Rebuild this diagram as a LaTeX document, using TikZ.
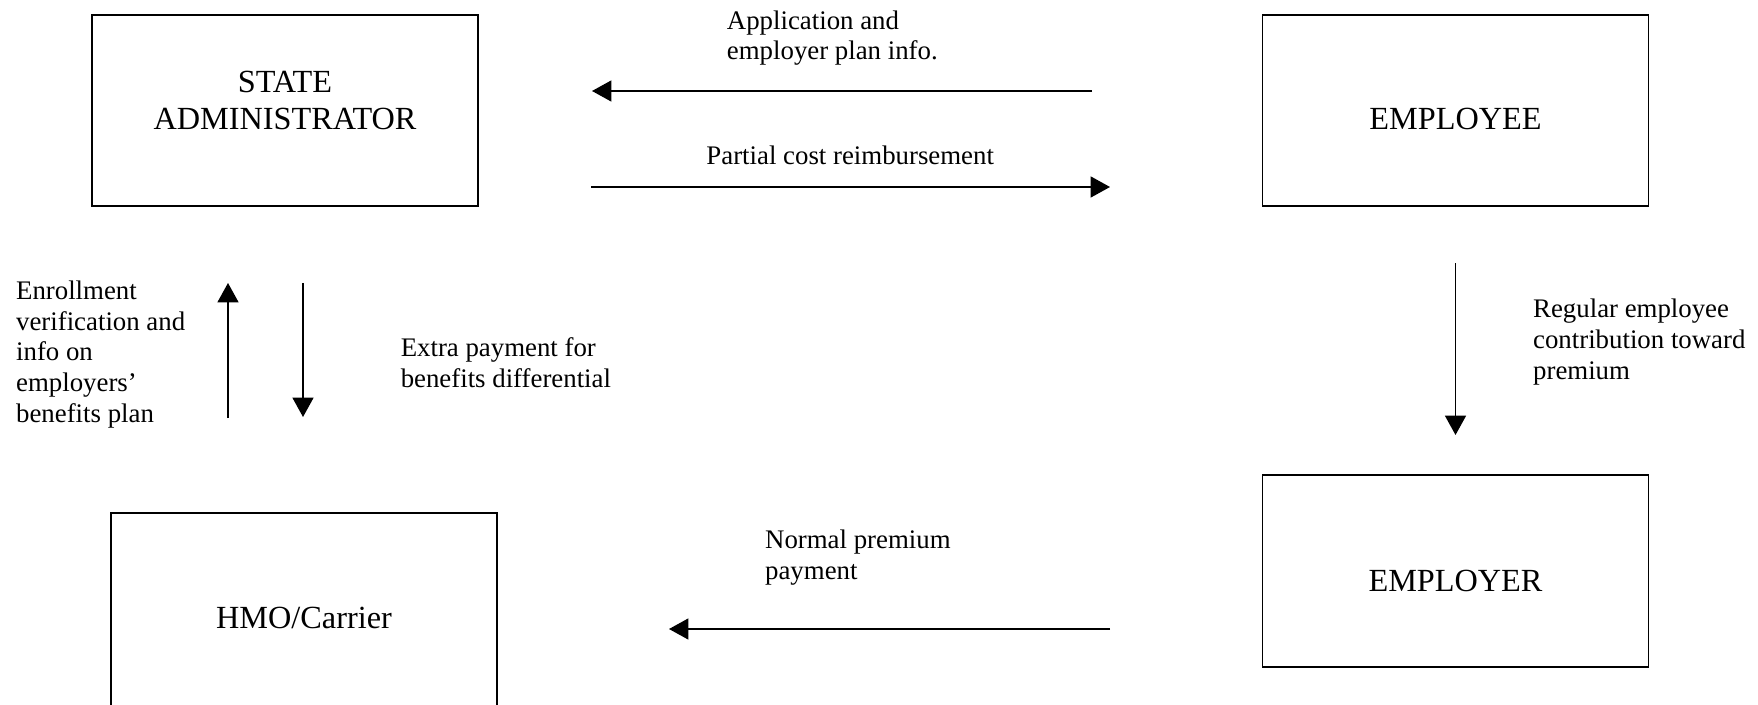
\documentclass[tikz,border=0pt]{standalone}
\usepackage{fontspec}
\setmainfont{Liberation Serif}
\usetikzlibrary{arrows.meta}
\begin{document}
\begin{tikzpicture}[x=0.44pt,y=-0.44pt,
  entity/.style={draw, line width=0.8pt, rectangle, inner sep=0pt,
    minimum width=169.8pt, minimum height=#1},
  entity/.default=84pt,
  title/.style={font=\fontsize{14.2}{16.3}\selectfont, align=center,
    anchor=base, inner sep=0pt},
  note/.style={font=\fontsize{11.8}{13.55}\selectfont, align=left,
    anchor=base west, inner sep=0pt},
  flow/.style={line width=0.7pt, -{Triangle[length=8.5pt,width=9.2pt]}}
]
\useasboundingbox (0,0) rectangle (1758,705);

% parties
\node[entity] (state) at (285,110.5) {};
\node[entity] (employee) at (1455.5,110.5) {};
\node[entity=84.5pt] (employer) at (1455.5,571) {};
\node[entity=86.2pt] (hmo) at (304,611) {};

% titles (anchored on the baseline of their last line)
\node[title] (stateT) at (285,129.7) {STATE\\ADMINISTRATOR};
\node[title] (employeeT) at (1455.5,129.7) {EMPLOYEE};
\node[title] (employerT) at (1455.5,591.7) {EMPLOYER};
\node[title] (hmoT) at (304,628.7) {HMO/Carrier};

% arrow end points
\coordinate (appS) at (1092,91);
\coordinate (appE) at (592,91);
\coordinate (reimS) at (591,187);
\coordinate (reimA) at (687,187);
\coordinate (reimB) at (1034,187);
\coordinate (reimE) at (1110,187);
\coordinate (enrS) at (228,418);
\coordinate (enrE) at (228,283);
\coordinate (xtraS) at (303,283);
\coordinate (xtraE) at (303,417);
\coordinate (contS) at (1455.5,263.5);
\coordinate (contE) at (1455.5,435);
\coordinate (premS) at (1110,629);
\coordinate (premE) at (669,629);

% flows
\draw[flow] (appS) -- (appE);
\draw[line width=0.7pt] (reimS) -- (reimA);
\draw[line width=0.45pt] (reimA) -- (reimB);
\draw[flow] (reimB) -- (reimE);
\draw[flow] (enrS) -- (enrE);
\draw[flow] (xtraS) -- (xtraE);
\draw[flow] (contS) -- (contE);
\draw[flow] (premS) -- (premE);

% flow labels (anchored on the baseline of their last line)
\node[note] (appL) at (726.5,60) {Application and\\employer plan info.};
\node[note] (reimL) at (706,165) {Partial cost reimbursement};
\node[note] (enrL) at (15.7,422.5) {Enrollment\\verification and\\info on\\employers’\\benefits plan};
\node[note] (xtraL) at (400.3,387.3) {Extra payment for\\benefits differential};
\node[note] (contL) at (1532.7,379.2) {Regular employee\\contribution toward\\premium};
\node[note] (premL) at (764.7,579) {Normal premium\\payment};
\end{tikzpicture}
\end{document}
